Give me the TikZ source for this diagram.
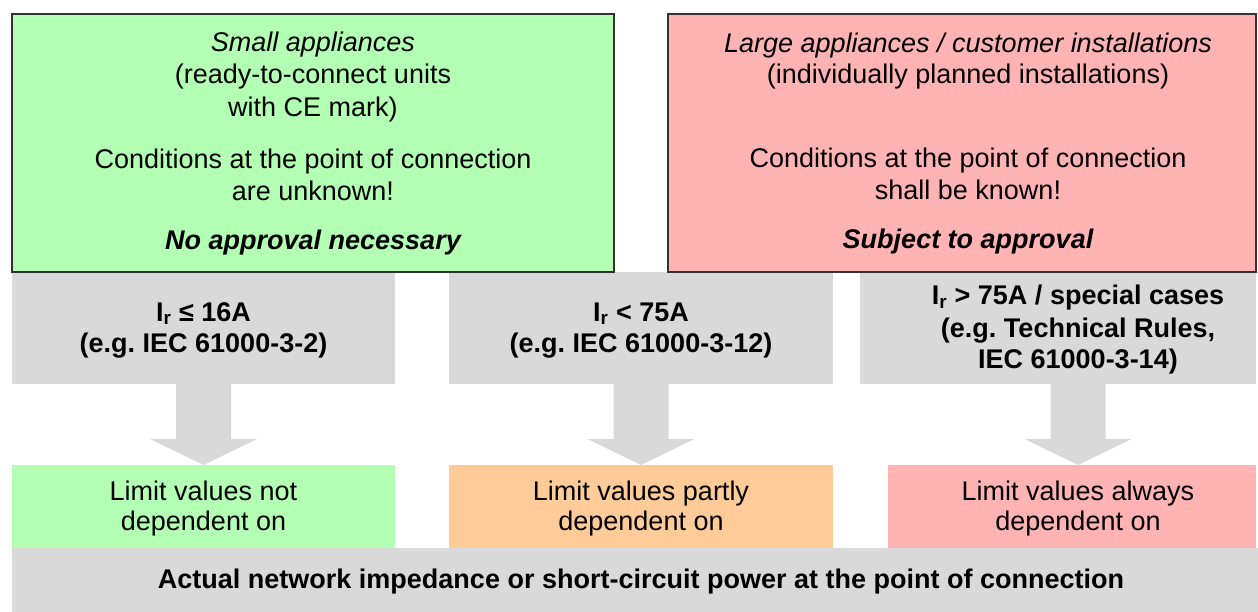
\documentclass[tikz,border=0pt]{standalone}
\usepackage{fontspec}
\setmainfont{Liberation Sans}
\usetikzlibrary{calc}
\definecolor{lgreen}{RGB}{179,255,179}
\definecolor{lred}{RGB}{255,179,179}
\definecolor{lorange}{RGB}{255,204,153}
\definecolor{lgray}{RGB}{217,217,217}
\definecolor{edge}{RGB}{50,50,50}
\frenchspacing
\begin{document}
\begin{tikzpicture}[x=1pt,y=-1pt,
  txt/.style={anchor=base, inner sep=0pt, font=\fontsize{27}{32}\selectfont},
  btxt/.style={txt, font=\fontsize{27}{32}\selectfont\bfseries},
  itxt/.style={txt, font=\fontsize{27}{32}\selectfont\itshape},
  bitxt/.style={txt, font=\fontsize{27}{32}\selectfont\bfseries\itshape},
  area/.style={anchor=north west, inner sep=0pt, outer sep=0pt, draw=none},
  topbox/.style={area, draw=edge, line width=1.4pt},
  blockarrow/.style={fill=lgray, draw=none}]
\useasboundingbox (0,0) rectangle (1258,612);
% gray condition boxes
\node[area, fill=lgray, minimum width=383, minimum height=112] (g1) at (12,272) {};
\node[area, fill=lgray, minimum width=384, minimum height=112] (g2) at (449,272) {};
\node[area, fill=lgray, minimum width=396, minimum height=112] (g3) at (860,272) {};
% top boxes
\node[topbox, fill=lgreen, minimum width=602, minimum height=258] (small) at (12,14) {};
\node[topbox, fill=lred, minimum width=588, minimum height=258] (large) at (668,14) {};
% bottom bar and result boxes
\node[area, fill=lgray, minimum width=1246, minimum height=66] (bar) at (12,548) {};
\node[area, fill=lgreen, minimum width=383, minimum height=83] (b1) at (12,465) {};
\node[area, fill=lorange, minimum width=384, minimum height=83] (b2) at (449,465) {};
\node[area, fill=lred, minimum width=368, minimum height=83] (b3) at (888,465) {};
% block arrows
\coordinate (t1) at (203.5,465);
\coordinate (t2) at (641,465);
\coordinate (t3) at (1078,465);
\foreach \t in {t1,t2,t3}{
  \fill[blockarrow] ($(\t)+(-27.5,-81)$) -- ($(\t)+(27.5,-81)$) -- ($(\t)+(27.5,-26)$)
    -- ($(\t)+(53.5,-26)$) -- (\t) -- ($(\t)+(-53.5,-26)$) -- ($(\t)+(-27.5,-26)$) -- cycle;
}
% texts top left
\node[itxt] (s1) at (313,52) {Small appliances};
\node[txt] (s2) at (313,84) {(ready-to-connect units};
\node[txt] (s3) at (313,117) {with CE mark)};
\node[txt] (s4) at (313,169) {Conditions at the point of connection};
\node[txt] (s5) at (313,201) {are unknown!};
\node[bitxt] (s6) at (313,250) {No approval necessary};
% texts top right
\node[itxt] (l1) at (968,53) {Large appliances / customer installations};
\node[txt] (l2) at (968,84) {(individually planned installations)};
\node[txt] (l4) at (968,168) {Conditions at the point of connection};
\node[txt] (l5) at (968,200) {shall be known!};
\node[bitxt] (l6) at (968,249) {Subject to approval};
% gray texts
\node[btxt] (g1a) at (203.5,321) {I\textsubscript{r} ≤ 16A};
\node[btxt] (g1b) at (203.5,352) {(e.g. IEC 61000-3-2)};
\node[btxt] (g2a) at (641,321) {I\textsubscript{r} < 75A};
\node[btxt] (g2b) at (641,352) {(e.g. IEC 61000-3-12)};
\node[btxt] (g3a) at (1078,305) {I\textsubscript{r} > 75A / special cases};
\node[btxt] (g3b) at (1078,337) {(e.g. Technical Rules,};
\node[btxt] (g3c) at (1078,368) {IEC 61000-3-14)};
% bottom texts
\node[txt] (b1a) at (203.5,500) {Limit values not};
\node[txt] (b1b) at (203.5,530) {dependent on};
\node[txt] (b2a) at (641,500) {Limit values partly};
\node[txt] (b2b) at (641,530) {dependent on};
\node[txt] (b3a) at (1078,500) {Limit values always};
\node[txt] (b3b) at (1078,530) {dependent on};
\node[btxt] (bart) at (641,588) {Actual network impedance or short-circuit power at the point of connection};
\end{tikzpicture}
\end{document}
